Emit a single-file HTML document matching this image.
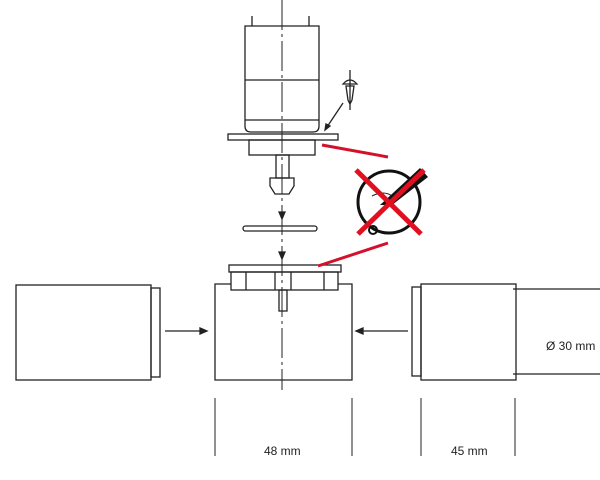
<!DOCTYPE html>
<html><head><style>
html,body{margin:0;padding:0;background:#fff;width:600px;height:480px;overflow:hidden}
svg{display:block}
text{font-family:"Liberation Sans",sans-serif;font-size:12px;fill:#222}
</style></head><body>
<svg width="600" height="480" viewBox="0 0 600 480" xmlns="http://www.w3.org/2000/svg">
<g stroke="#222" stroke-width="1.3" fill="none">
<!-- axis -->
<line x1="282" y1="0" x2="282" y2="390" stroke-dasharray="30,4,3,4" stroke-width="1"/>
<!-- motor -->
<line x1="252" y1="16" x2="252" y2="26"/><line x1="309" y1="16" x2="309" y2="26"/>
<path d="M245 26 H319 V126 Q319 132 313 132 H251 Q245 132 245 126 Z"/>
<line x1="245" y1="80" x2="319" y2="80"/>
<line x1="245" y1="120" x2="319" y2="120"/>
<rect x="228" y="134" width="110" height="6"/>
<rect x="249" y="140" width="66" height="15"/>
<rect x="276" y="155" width="13" height="23"/>
<path d="M270 178 H294 V186 L289 194 H275 L270 186 Z"/>
<!-- screw -->
<line x1="350" y1="70" x2="350" y2="110"/>
<path d="M343 84 Q350 76 357 84 Z"/>
<path d="M346 86 H354 L352 100 L350 104 L348 100 Z"/>
<line x1="343" y1="103" x2="327" y2="127"/>
<path d="M325 130 L326 124 L330 126 Z" fill="#222"/>
<!-- arrows along axis -->
<path d="M279 212 L282 219 L285 212 Z" fill="#222"/>
<path d="M279 252 L282 259 L285 252 Z" fill="#222"/>
<!-- ring -->
<rect x="243" y="226" width="74" height="5" rx="2.5"/>
<!-- assembled -->
<rect x="229" y="265" width="112" height="7"/>
<rect x="231" y="272" width="107" height="18"/>
<line x1="246" y1="272" x2="246" y2="290"/><line x1="275" y1="272" x2="275" y2="290"/>
<line x1="291" y1="272" x2="291" y2="290"/><line x1="324" y1="272" x2="324" y2="290"/>
<path d="M231 284 H215 V380 H352 V284 H338"/>
<rect x="279" y="290" width="8" height="21"/>
<!-- left -->
<rect x="16" y="285" width="135" height="95"/>
<rect x="151" y="288" width="9" height="89"/>
<line x1="165" y1="331" x2="203" y2="331"/>
<path d="M200 328 L207 331 L200 334 Z" fill="#222"/>
<!-- right -->
<rect x="412" y="287" width="9" height="89"/>
<rect x="421" y="284" width="95" height="96"/>
<line x1="408" y1="331" x2="362" y2="331"/>
<path d="M363 328 L356 331 L363 334 Z" fill="#222"/>
<line x1="513" y1="289" x2="600" y2="289"/>
<line x1="513" y1="374" x2="600" y2="374"/>
<!-- dims -->
<line x1="215" y1="398" x2="215" y2="456" stroke-width="1"/>
<line x1="352" y1="398" x2="352" y2="456" stroke-width="1"/>
<line x1="421" y1="398" x2="421" y2="456" stroke-width="1"/>
<line x1="515" y1="398" x2="515" y2="456" stroke-width="1"/>
<!-- circle icon -->
<circle cx="389" cy="202" r="31" stroke-width="3" stroke="#111"/>
<path d="M372 196 Q384 190 392 196" stroke-width="1"/>
</g>
<path d="M380 205 L420 168 L428 177 L392 205 Z" fill="#111"/>
<circle cx="373" cy="230" r="4" fill="none" stroke="#111" stroke-width="2"/>
<g stroke="#d4112b" stroke-width="3" fill="none">
<line x1="322" y1="145" x2="388" y2="157"/>
<line x1="388" y1="243" x2="318" y2="266"/>
</g>
<g stroke="#e01020" stroke-width="5">
<line x1="356" y1="170" x2="421" y2="234"/>
<line x1="424" y1="170" x2="358" y2="234"/>
</g>
<line x1="392" y1="200" x2="424" y2="172" stroke="#e01020" stroke-width="3"/>
<text x="546" y="350">Ø 30 mm</text>
<text x="264" y="455">48 mm</text>
<text x="451" y="455">45 mm</text>
</svg>
</body></html>
